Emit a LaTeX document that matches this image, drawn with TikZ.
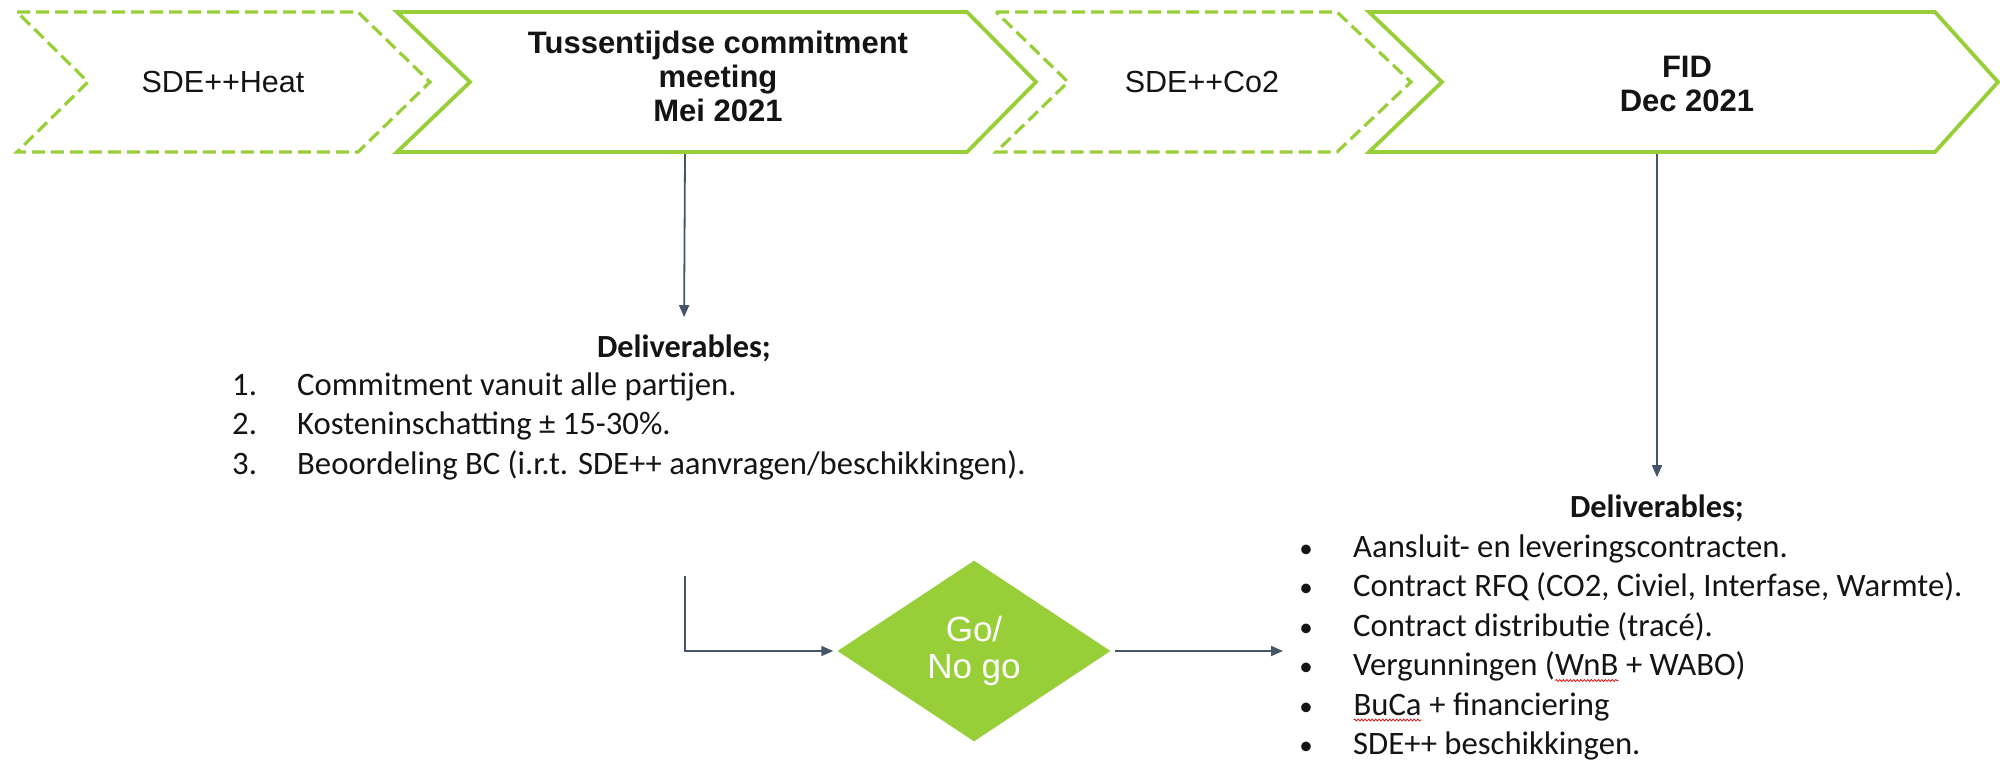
\documentclass[tikz,border=0pt]{standalone}
\usepackage{fontspec}
\setmainfont{Liberation Sans}
\newfontfamily\calfont{Carlito}
\usetikzlibrary{shapes.geometric,arrows.meta,decorations.pathmorphing}
\definecolor{lime}{RGB}{152,206,56}
\definecolor{arrowc}{RGB}{68,84,106}
\definecolor{txt}{RGB}{20,20,20}
\newcommand\squig[1]{\tikz[baseline=(sq.base)]{\node[inner sep=0pt,outer sep=0pt](sq){#1};\draw[red!85!black,line width=0.7pt,decorate,decoration={snake,amplitude=1pt,segment length=3.5pt}] ([yshift=-5pt]sq.base west) -- ([yshift=-5pt]sq.base east);}}
\begin{document}
\begin{tikzpicture}[x=1pt,y=-1pt,
  chev/.style={draw=lime, line width=3.8pt, fill=white, line join=miter},
  chevdash/.style={chev, line width=3.2pt, dash pattern=on 13pt off 6pt},
  lbl/.style={font=\fontsize{30.5}{36}\selectfont, text=txt, align=center},
  hd/.style={font=\fontsize{31}{34}\selectfont\bfseries, text=txt, align=center},
  conn/.style={draw=arrowc, line width=1.8pt, -{Triangle[length=12pt,width=10pt]}},
  item/.style={font=\calfont\fontsize{32.7}{40}\selectfont, text=txt, anchor=base west, inner sep=0pt},
  bul/.style={font=\calfont\fontsize{27}{40}\selectfont, text=txt, anchor=base, inner sep=0pt},
  delhd/.style={font=\calfont\fontsize{32.3}{40}\selectfont\bfseries, text=txt, anchor=base, inner sep=0pt},
  decision/.style={diamond, fill=lime, draw=white, line width=2.5pt, minimum width=279pt, minimum height=185pt, inner sep=0pt, text=white, font=\fontsize{35}{37}\selectfont, align=center}
]
\useasboundingbox (0,0) rectangle (2000,763);
% chevrons
\draw[chevdash] (17,12) -- (358,12) -- (430,82) -- (358,152) -- (17,152) -- (88,82) -- cycle;
\draw[chev] (397,12) -- (967,12) -- (1036,82) -- (967,152) -- (397,152) -- (470,82) -- cycle;
\draw[chevdash] (996,12) -- (1337,12) -- (1411,82) -- (1337,152) -- (996,152) -- (1068,82) -- cycle;
\draw[chev] (1369,12) -- (1935,12) -- (1998,82) -- (1935,152) -- (1369,152) -- (1442,82) -- cycle;
\node[lbl] (heat) at (223,82) {SDE++Heat};
\node[hd] (tuss) at (718,76) {Tussentijdse commitment\\meeting\\Mei 2021};
\node[hd] (fid) at (1687,84) {FID\\Dec 2021};
\node[lbl] (co2) at (1202,82) {SDE++Co2};
\coordinate (s2b) at (685,154);
\coordinate (s4b) at (1657,154);
% left deliverables
\node[delhd] (del1) at (684,357) {Deliverables;};
\node[item] (n1) at (232,395) {1.};
\node[item] (t1) at (297,395) {Commitment vanuit alle partijen.};
\node[item] (n2) at (232,434.5) {2.};
\node[item] (t2) at (297,434.5) {Kosteninschatting ± 15-30\%.};
\node[item] (n3) at (232,474) {3.};
\node[item] (t3) at (297,474) {Beoordeling BC (i.r.t. SDE++ aanvragen/beschikkingen).};
% right deliverables
\node[delhd] (del2) at (1657,517) {Deliverables;};
\foreach \yy in {557,596.5,636,675.5,715,754.5}{\node[bul] at (1306,\yy) {•};}
\node[item] (r1) at (1353,557) {Aansluit- en leveringscontracten.};
\node[item] (r2) at (1353,596.5) {Contract RFQ (CO2, Civiel, Interfase, Warmte).};
\node[item] (r3) at (1353,636) {Contract distributie (tracé).};
\node[item] (r4) at (1353,675.5) {Vergunningen (\squig{WnB} + WABO)};
\node[item] (r5) at (1353,715) {\squig{BuCa} + financiering};
\node[item] (r6) at (1353,754.5) {SDE++ beschikkingen.};
% decision
\node[decision] (go) at (974,651) {Go/\\No go};
\coordinate (bend0) at (685,576);
\coordinate (tgt) at (1283,651);
% connectors
\draw[conn, shorten >=17pt] (s2b) -- (del1.north);
\draw[conn, shorten >=17pt] (s4b) -- (del2.north);
\draw[conn] (bend0) |- (go.west);
\draw[conn] (go.east) -- (tgt);
\end{tikzpicture}
\end{document}
